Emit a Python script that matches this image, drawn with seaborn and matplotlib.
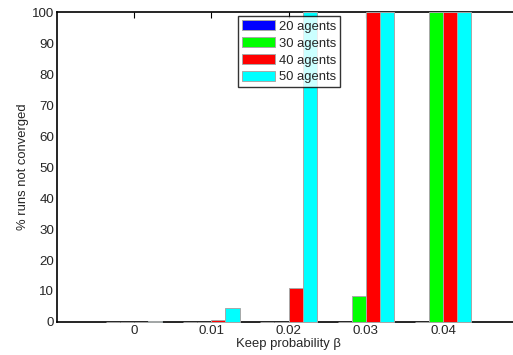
import matplotlib
matplotlib.use("Agg")
import matplotlib.pyplot as plt
import seaborn as sns
import pandas as pd

# Keep probability values (x categories)
keep_prob = ["0", "0.01", "0.02", "0.03", "0.04"]
series_names = ["20 agents", "30 agents", "40 agents", "50 agents"]

# % of runs that did not converge, per swarm size
agents_20 = [0, 0, 0, 0, 0]
agents_30 = [0, 0, 0, 8.5, 100]
agents_40 = [0, 0.5, 11, 100, 100]
agents_50 = [0.4, 4.5, 100, 100, 100]

colors = ["#0000ff", "#00ff00", "#ff0000", "#00ffff"]

rows = []
for name, vals in zip(series_names, [agents_20, agents_30, agents_40, agents_50]):
    for kp, v in zip(keep_prob, vals):
        rows.append({"beta": kp, "pct": v, "group": name})
df = pd.DataFrame(rows)

sns.set_style("white")
plt.rcParams["font.family"] = ["Liberation Sans", "DejaVu Sans"]

fig = plt.figure(figsize=(5.13, 3.55), dpi=100)
ax = fig.add_axes([0.111, 0.093, 0.903, 0.873])

sns.barplot(data=df, x="beta", y="pct", hue="group", order=keep_prob,
            hue_order=series_names, palette=colors, width=0.73,
            edgecolor="#a8a8a8", linewidth=0.7, saturation=1, ax=ax)

# bars (including zero-height ones) drawn over the baseline
for p in ax.patches:
    p.set_zorder(3)
    p.set_clip_on(False)

ax.set_xlim(-1, 5)
ax.set_ylim(0, 100)
ax.set_yticks(range(0, 101, 10))
ax.set_xlabel("Keep probability β", fontsize=9.4, labelpad=1)
ax.set_ylabel("% runs not converged", fontsize=9.4, labelpad=2)
ax.tick_params(axis="both", labelsize=9.6, direction="in", length=4, width=0.8,
               top=True, right=True, pad=2, color="black")
for s in ax.spines.values():
    s.set_linewidth(1.2)
    s.set_color("black")

leg = ax.legend(loc="upper left", bbox_to_anchor=(0.391, 0.987), fontsize=9.4,
                frameon=True, fancybox=False, edgecolor="black",
                handlelength=2.5, handleheight=0.85, handletextpad=0.3,
                labelspacing=0.32, borderpad=0.3, borderaxespad=0)
leg.get_frame().set_linewidth(1.0)
leg.set_zorder(5)

fig.savefig("out.png", dpi=100)
